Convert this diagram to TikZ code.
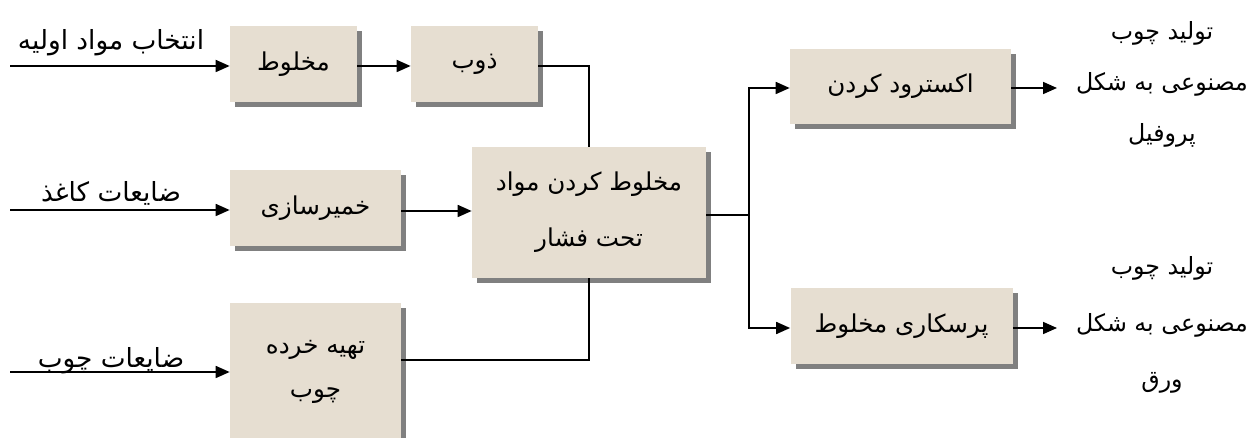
\documentclass[tikz,border=0pt]{standalone}
\usepackage{fontspec}
\TeXXeTstate=1
\newfontfamily\arabicfont[Script=Arabic]{DejaVu Sans}
\usetikzlibrary{positioning,shadows,arrows.meta}
\definecolor{ink}  {HTML}{000000}
\definecolor{sand} {HTML}{E6DED1}
\definecolor{shade}{HTML}{808080}
\newcommand{\fatext}[1]{\beginR #1\endR}
\tikzset{
  >={Triangle[length=0.28cm,width=0.24cm]},
  every node/.style={font=\arabicfont\fontsize{15}{18}\selectfont},
  % --- nodes
  box/.style  = {fill=sand, inner sep=0pt, align=center,
                 font=\arabicfont\fontsize{14}{17}\selectfont,
                 drop shadow={shadow xshift=0.1cm, shadow yshift=-0.1cm,
                              fill=shade, opacity=1}},
  lbl/.style  = {inner sep=0pt, align=center},
  prod/.style = {lbl, font=\arabicfont\fontsize{13.5}{17}\selectfont},
  % --- edges
  e/.style    = {->, line width=1pt, draw=ink},
  l/.style    = {line width=1pt, draw=ink},
}

\begin{document}
\begin{tikzpicture}[x=0.02cm, y=-0.02cm,
  sz/.style 2 args={minimum width=#1*0.02cm, minimum height=#2*0.02cm},
]
  \useasboundingbox (0,0) rectangle (1254,438);
  \node[box, sz={127}{76}]  (mk) at (293.5,64)  {\fatext{مخلوط}};
  \node[box, sz={127}{76}]  (zb) at (474.5,64)  {\fatext{ذوب}};
  \node[box, sz={171}{76}]  (km) at (315.5,208) {\fatext{خمیرسازی}};
  \node[box, sz={171}{137}] (th) at (315.5,371.5)
    {\fatext{تهیه خرده}\\[8pt]\fatext{چوب}};
  \node[box, sz={234}{131}] (cm) at (589,212.5)
    {\fatext{مخلوط کردن مواد}\\[15pt]\fatext{تحت فشار}};
  \node[box, sz={221}{75}]  (ak) at (900.5,86.5) {\fatext{اکسترود کردن}};
  \node[box, sz={222}{76}]  (pr) at (901.5,326)  {\fatext{پرسکاری مخلوط}};

  \node[lbl] (t1) at (111,43)  {\fatext{انتخاب مواد اولیه}};
  \node[lbl] (t2) at (111,193) {\fatext{ضایعات کاغذ}};
  \node[lbl] (t3) at (111,361) {\fatext{ضایعات چوب}};
  \node[prod] (o1) at (1162,84)
    {\fatext{تولید چوب}\\[12pt]\fatext{مصنوعی به شکل}\\[12pt]\fatext{پروفیل}};
  \node[prod] (o2) at (1162,325)
    {\fatext{تولید چوب}\\[15pt]\fatext{مصنوعی به شکل}\\[15pt]\fatext{ورق}};

  \coordinate (a1) at (10,66);  \coordinate (a2) at (10,210);
  \coordinate (a3) at (10,372); \coordinate (sp) at (749,215);
  \coordinate (b1) at (1057,88); \coordinate (b2) at (1057,328);

  \draw[e] (a1) -- (a1 -| mk.west);
  \draw[e] (a2) -- (a2 -| km.west);
  \draw[e] (a3) -- (a3 -| th.west);
  \draw[e] (a1 -| mk.east) -- (a1 -| zb.west);
  \draw[l] (a1 -| zb.east) -| (cm.north);
  \draw[e] (km.east |- 0,211) -- (cm.west |- 0,211);
  \draw[l] (th.east |- 0,360) -| (cm.south);
  \draw[l] (sp -| cm.east) -- (sp);
  \draw[e] (sp) |- (b1 -| ak.west);
  \draw[e] (sp) |- (b2 -| pr.west);
  \draw[e] (b1 -| ak.east) -- (b1);
  \draw[e] (b2 -| pr.east) -- (b2);
\end{tikzpicture}
\end{document}
